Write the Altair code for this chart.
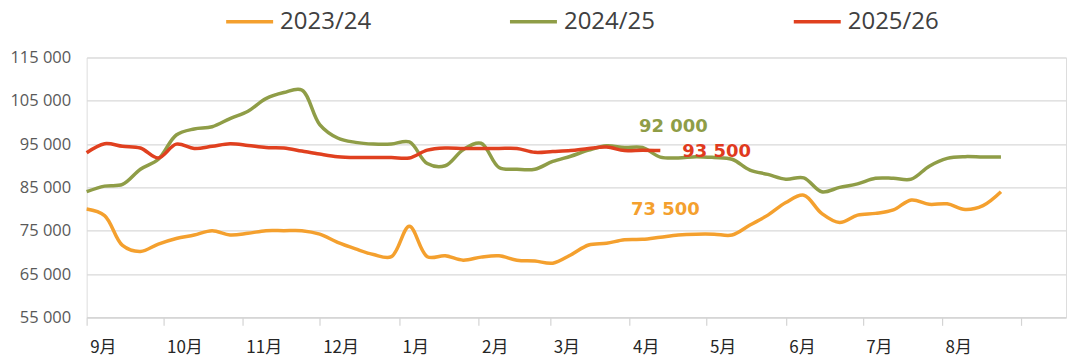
import altair as alt
import pandas as pd

# ---------------- data ----------------
seasons = ["2023/24", "2024/25", "2025/26"]
colors = ["#F4A02E", "#8F9D47", "#E0401F"]

# weekly observations, week index from start of September
v2023_24 = [80000, 78500, 71600, 70200, 71900, 73200, 74000, 75000, 74000, 74400,
            75000, 75000, 75000, 74200, 72300, 70800, 69500, 69000, 76000, 69000,
            69200, 68200, 68900, 69200, 68200, 68000, 67500, 69400, 71700, 72100,
            72900, 73000, 73500, 74000, 74200, 74200, 74000, 76300, 78600, 81500,
            83200, 79000, 76900, 78600, 79000, 79800, 82100, 81100, 81200, 79900,
            80800, 84000]
v2024_25 = [84000, 85300, 85700, 89200, 91500, 97100, 98500, 99000, 100900, 102600,
            105500, 106900, 107500, 99500, 96400, 95400, 95000, 95000, 95500, 90500,
            90000, 93700, 95200, 89600, 89200, 89200, 91000, 92200, 93600, 94600,
            94200, 94200, 92000, 91800, 92100, 91900, 91500, 89000, 88000, 86900,
            87200, 84000, 85000, 85800, 87100, 87100, 86900, 89900, 91700, 92100,
            92000, 92000]
v2025_26 = [93000, 95100, 94500, 94100, 91800, 95000, 94000, 94500, 95100, 94700,
            94200, 94100, 93400, 92700, 92100, 91900, 91900, 91900, 91800, 93600,
            94100, 94000, 94000, 94000, 94000, 93100, 93300, 93500, 94000, 94300,
            93500, 93600, 93500]

month_labels = ["9月", "10月", "11月", "12月", "1月", "2月", "3月", "4月",
                "5月", "6月", "7月", "8月", ""]
month_start_days = [0, 30, 61, 91, 122, 153, 181, 212, 242, 273, 303, 334, 365]
y_ticks = [55000, 65000, 75000, 85000, 95000, 105000, 115000]
annot_week = 32

rows = []
for s, vals in zip(seasons, [v2023_24, v2024_25, v2025_26]):
    for w, v in enumerate(vals):
        rows.append({"season": s, "week": w, "day": w * 7, "value": v})
df = pd.DataFrame(rows)

label_list = "[" + ",".join("'" + m + "'" for m in month_labels) + "]"
day_list = "[" + ",".join(str(d) for d in month_start_days) + "]"
x_label_expr = f"{label_list}[indexof({day_list}, datum.value)]"

x_enc = alt.X(
    "day:Q",
    scale=alt.Scale(domain=[0, 382.4], nice=False, zero=False),
    axis=alt.Axis(
        values=month_start_days, labelExpr=x_label_expr, title=None, grid=False,
        domain=True, domainColor="#d4d4d4", domainWidth=1.2,
        ticks=True, tickColor="#d4d4d4", tickSize=8, tickWidth=1.2,
        labelAlign="left", labelOffset=3, labelBaseline="top", labelPadding=14,
        labelFont="Noto Sans CJK SC", labelFontSize=17, labelColor="#262626",
    ),
)
y_enc = alt.Y(
    "value:Q",
    scale=alt.Scale(domain=[55000, 115000], nice=False, zero=False),
    axis=alt.Axis(
        values=y_ticks, title=None, grid=True, gridColor="#d9d9d9", gridWidth=1.2,
        domain=False, ticks=False, labelPadding=16,
        labelExpr="replace(format(datum.value, ','), ',', ' ')",
        labelFont="Open Sans", labelFontSize=16.5, labelColor="#595959",
    ),
)

color_enc = alt.Color(
    "season:N",
    scale=alt.Scale(domain=seasons, range=colors),
    legend=alt.Legend(
        orient="none", legendX=137.6, legendY=-61.5, direction="horizontal",
        title=None, symbolType="stroke", symbolSize=2209, symbolStrokeWidth=3.5,
        labelFont="Open Sans", labelFontSize=24, labelColor="#404040",
        labelOffset=5, columnPadding=131, labelLimit=300,
    ),
)

lines = alt.Chart(df).mark_line(interpolate="catmull-rom", strokeWidth=3.5).encode(
    x=x_enc, y=y_enc, color=color_enc
)

base_ann = alt.Chart(df).transform_filter(
    alt.datum.week == annot_week
).transform_calculate(
    label="replace(format(datum.value, ','), ',', ' ')"
)


def ann(season, color, dx, dy, align):
    return base_ann.transform_filter(alt.datum.season == season).mark_text(
        font="DejaVu Sans", fontWeight="bold", fontSize=18, color=color,
        dx=dx, dy=dy, align=align, baseline="middle",
    ).encode(x="day:Q", y="value:Q", text="label:N")


chart = alt.layer(
    lines,
    ann("2023/24", colors[0], 5, -27, "center"),
    ann("2024/25", colors[1], 13, -30, "center"),
    ann("2025/26", "#E03A1E", 22, 1.5, "left"),
).properties(
    width=980, height=260,
    autosize=alt.AutoSizeParams(type="none"),
    padding={"left": 78.7, "top": 49.4, "right": 6, "bottom": 46},
).configure_view(stroke=None).configure(background="white")

chart.save("out.html", embed_options={"renderer": "svg", "actions": False})
